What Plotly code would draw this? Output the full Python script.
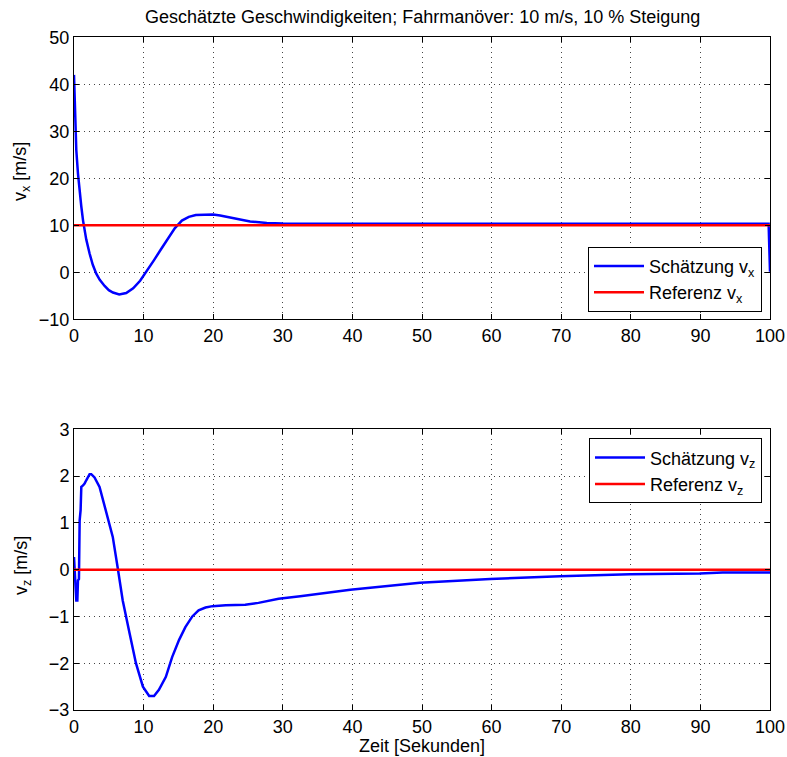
import plotly.graph_objects as go
from plotly.subplots import make_subplots

# ---- data ----
t_vx = [0, 0.1, 0.24, 0.33, 0.57, 0.8, 1.05, 1.3, 1.76, 2.24, 2.7, 3.2, 3.7, 4.4,
        5.0, 5.6, 6.5, 7.5, 8.5, 9.5, 10.5, 11.5, 12.5, 13.5, 14.5, 15.5, 16.5, 17.5,
        18.5, 20.0, 21.0, 22.9, 25.3, 27.7, 30, 40, 50, 60, 70, 80, 90, 99.8, 100]
vx = [42, 36, 33, 26, 21, 17, 14, 11, 7, 4.0, 1.6, -0.3, -1.6, -2.9,
      -3.8, -4.3, -4.7, -4.4, -3.4, -1.8, 0.3, 2.6, 4.9, 7.2, 9.4, 11.0, 11.8, 12.2,
      12.3, 12.3, 12.1, 11.5, 10.8, 10.5, 10.4, 10.35, 10.35, 10.35, 10.35, 10.35, 10.35, 10.35, 0.1]
t_ref = [0, 100]
vx_ref = [10, 10]

t_vz = [0, 0.14, 0.33, 0.48, 0.57, 0.71, 0.81, 0.95, 1.05, 1.3, 1.52, 1.76, 2.24, 2.48,
        2.95, 3.67, 4.6, 5.57, 6.3, 7.0, 8.0, 8.9, 9.9, 10.8, 11.5, 12.2, 13.2, 14.1,
        15.1, 16.0, 17.0, 17.9, 18.9, 19.9, 21.8, 24.6, 26.5, 29.4, 32.5, 39.7, 49.7,
        59.8, 69.8, 79.9, 89.9, 93.2, 100]
vz = [0.27, -0.23, -0.66, -0.66, -0.23, -0.2, 1.05, 1.27, 1.77, 1.8, 1.84, 1.91, 2.04, 2.04,
      1.97, 1.77, 1.27, 0.7, 0.02, -0.66, -1.37, -2.0, -2.5, -2.7, -2.7, -2.57, -2.29, -1.87,
      -1.5, -1.23, -1.0, -0.87, -0.81, -0.78, -0.76, -0.75, -0.71, -0.62, -0.57, -0.43, -0.28,
      -0.2, -0.14, -0.1, -0.08, -0.06, -0.06]
vz_ref = [0, 0]

FONT = "Liberation Sans, Arial, Helvetica, sans-serif"
FS = 18

fig = make_subplots(rows=2, cols=1)

fig.add_trace(go.Scatter(x=t_vx, y=vx, mode="lines", line=dict(color="#0000FF", width=2.5),
                         name="Schätzung v<sub>x</sub>", legend="legend"), row=1, col=1)
fig.add_trace(go.Scatter(x=t_ref, y=vx_ref, mode="lines", line=dict(color="#FF0000", width=2.5),
                         name="Referenz v<sub>x</sub>", legend="legend"), row=1, col=1)
fig.add_trace(go.Scatter(x=t_vz, y=vz, mode="lines", line=dict(color="#0000FF", width=2.5),
                         name="Schätzung v<sub>z</sub>", legend="legend2"), row=2, col=1)
fig.add_trace(go.Scatter(x=t_ref, y=vz_ref, mode="lines", line=dict(color="#FF0000", width=2.5),
                         name="Referenz v<sub>z</sub>", legend="legend2"), row=2, col=1)

W, H = 787, 757
xdom = [74 / W, 770 / W]
axcommon = dict(showline=True, linecolor="black", linewidth=1, mirror="ticks",
                ticks="inside", ticklen=5, tickcolor="black",
                showgrid=True, gridcolor="#444444", gridwidth=1, griddash="1px,4px",
                zeroline=False, tickfont=dict(family=FONT, size=FS, color="black"))

fig.update_xaxes(range=[0, 100], dtick=10, domain=xdom, **axcommon)
fig.update_yaxes(**axcommon)
fig.update_yaxes(range=[-10, 50], dtick=10, domain=[1 - 319.3 / H, 1 - 37.3 / H], row=1, col=1)
fig.update_yaxes(range=[-3, 3], dtick=1, domain=[1 - 710 / H, 1 - 429.3 / H], row=2, col=1)

legstyle = dict(bgcolor="white", bordercolor="black", borderwidth=1,
                font=dict(family=FONT, size=FS, color="black"),
                xanchor="right", x=762 / W, tracegroupgap=0, itemwidth=50)

fig.update_layout(
    width=W, height=H,
    margin=dict(l=0, r=0, t=0, b=0, autoexpand=False),
    paper_bgcolor="white", plot_bgcolor="white",
    font=dict(family=FONT, size=FS, color="black"),
    legend=dict(yanchor="bottom", y=1 - 311.7 / H, **legstyle),
    legend2=dict(yanchor="top", y=1 - 438.3 / H, **legstyle),
    annotations=[
        dict(text="Geschätzte Geschwindigkeiten; Fahrmanöver: 10 m/s, 10 % Steigung",
             x=422 / W, y=1 - 17 / H, xref="paper", yref="paper", showarrow=False,
             font=dict(family=FONT, size=FS), xanchor="center", yanchor="middle"),
        dict(text="v<sub>x</sub> [m/s]", x=22 / W, y=1 - 172 / H, xref="paper", yref="paper",
             showarrow=False, textangle=-90, font=dict(family=FONT, size=FS),
             xanchor="center", yanchor="middle"),
        dict(text="v<sub>z</sub> [m/s]", x=22 / W, y=1 - 566 / H, xref="paper", yref="paper",
             showarrow=False, textangle=-90, font=dict(family=FONT, size=FS),
             xanchor="center", yanchor="middle"),
        dict(text="Zeit [Sekunden]", x=422 / W, y=1 - 746 / H, xref="paper", yref="paper",
             showarrow=False, font=dict(family=FONT, size=FS),
             xanchor="center", yanchor="middle"),
    ],
)

fig.write_html("out.html")
